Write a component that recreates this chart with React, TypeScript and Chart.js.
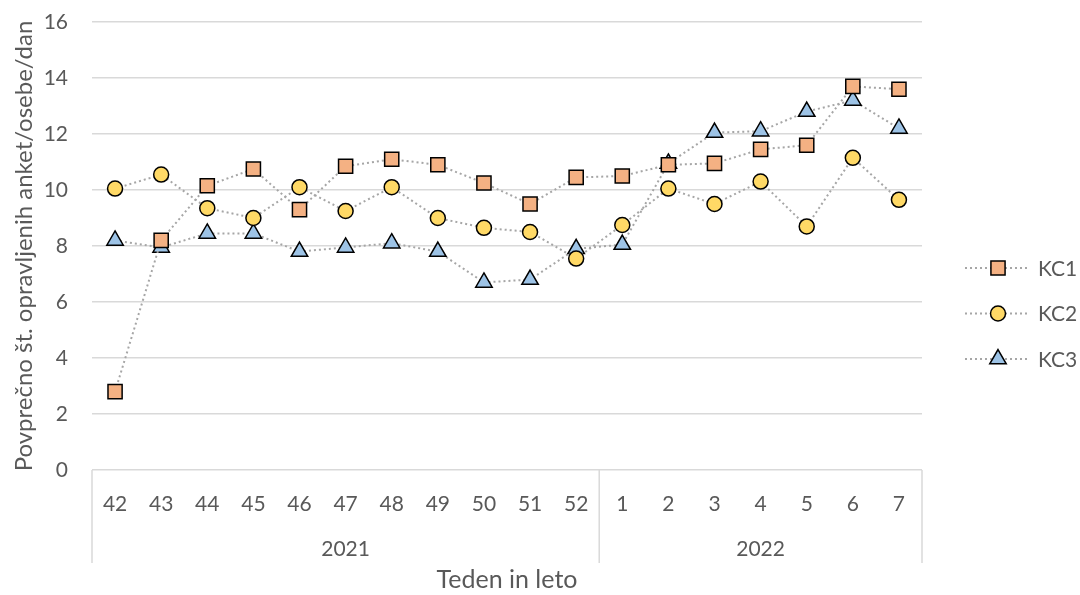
import React, { useEffect, useRef } from 'react';
import { Chart, registerables } from 'chart.js';

Chart.register(...registerables);

const weeks = ['42', '43', '44', '45', '46', '47', '48', '49', '50', '51', '52', '1', '2', '3', '4', '5', '6', '7'];
const years = ['2021', '2021', '2021', '2021', '2021', '2021', '2021', '2021', '2021', '2021', '2021', '2022', '2022', '2022', '2022', '2022', '2022', '2022'];
const seriesNames = ['KC1', 'KC2', 'KC3'];
const kc1 = [2.8, 8.2, 10.15, 10.75, 9.3, 10.85, 11.1, 10.9, 10.25, 9.5, 10.45, 10.5, 10.9, 10.95, 11.45, 11.6, 13.7, 13.6];
const kc2 = [10.05, 10.55, 9.35, 9.0, 10.1, 9.25, 10.1, 9.0, 8.65, 8.5, 7.55, 8.75, 10.05, 9.5, 10.3, 8.7, 11.15, 9.65];
const kc3 = [8.2, 7.95, 8.45, 8.45, 7.8, 7.95, 8.1, 7.8, 6.7, 6.8, 7.9, 8.05, 10.95, 12.05, 12.1, 12.8, 13.2, 12.2];
const yTitle = 'Povprečno št. opravljenih anket/osebe/dan';
const xTitle = 'Teden in leto';

const FONT = "Lato, 'Open Sans', sans-serif";
const TEXT = '#595959';
const GRID = '#d9d9d9';
const LINE = '#a6a6a6';
const fills = ['#f4b183', '#ffd966', '#9dc3e6'];
const styles = ['rect', 'circle', 'triangle'];
const radii = [10, 7.5, 9.5];

function drawMarker(ctx: CanvasRenderingContext2D, style: string, x: number, y: number, r: number, fill: string) {
  ctx.save();
  ctx.fillStyle = fill;
  ctx.strokeStyle = '#000';
  ctx.lineWidth = 1.5;
  ctx.beginPath();
  if (style === 'rect') {
    const s = Math.SQRT1_2 * r;
    ctx.rect(x - s, y - s, 2 * s, 2 * s);
  } else if (style === 'circle') {
    ctx.arc(x, y, r, 0, Math.PI * 2);
  } else {
    ctx.moveTo(x, y - r);
    ctx.lineTo(x + Math.sin(Math.PI / 3) * r, y + Math.cos(Math.PI / 3) * r);
    ctx.lineTo(x - Math.sin(Math.PI / 3) * r, y + Math.cos(Math.PI / 3) * r);
    ctx.closePath();
  }
  ctx.fill();
  ctx.stroke();
  ctx.restore();
}

const groupPlugin = {
  id: 'groupAxis',
  afterDraw(chart: any) {
    const ctx: CanvasRenderingContext2D = chart.ctx;
    const x = chart.scales.x;
    const area = chart.chartArea;
    const n = weeks.length;
    const half = (x.getPixelForValue(1) - x.getPixelForValue(0)) / 2;
    const lineBottom = area.bottom + 93;
    ctx.save();
    ctx.strokeStyle = GRID;
    ctx.lineWidth = 1.5;
    const bounds: number[] = [0];
    for (let i = 1; i < n; i++) if (years[i] !== years[i - 1]) bounds.push(i);
    bounds.push(n);
    bounds.forEach((b) => {
      const px = b === n ? x.getPixelForValue(n - 1) + half : x.getPixelForValue(b) - half;
      ctx.beginPath();
      ctx.moveTo(px, area.bottom);
      ctx.lineTo(px, lineBottom);
      ctx.stroke();
    });
    ctx.fillStyle = TEXT;
    ctx.font = `21px ${FONT}`;
    ctx.textAlign = 'center';
    ctx.textBaseline = 'middle';
    for (let k = 0; k < bounds.length - 1; k++) {
      const a = x.getPixelForValue(bounds[k]) - half;
      const b = x.getPixelForValue(bounds[k + 1] - 1) + half;
      ctx.fillText(years[bounds[k]], (a + b) / 2, area.bottom + 79);
    }
    const lx = area.right + 43;
    const ly = 268;
    ctx.font = `21px ${FONT}`;
    ctx.textAlign = 'left';
    seriesNames.forEach((name, i) => {
      const y = ly + i * 45.5;
      ctx.save();
      ctx.strokeStyle = LINE;
      ctx.lineWidth = 2;
      ctx.setLineDash([2, 3]);
      ctx.beginPath();
      ctx.moveTo(lx, y);
      ctx.lineTo(lx + 64, y);
      ctx.stroke();
      ctx.restore();
      drawMarker(ctx, styles[i], lx + 33, y, radii[i], fills[i]);
      ctx.fillStyle = TEXT;
      ctx.fillText(name, lx + 73, y + 1);
    });
    ctx.restore();
  },
};

export default function App() {
  const ref = useRef<HTMLCanvasElement>(null);
  useEffect(() => {
    document.body.style.margin = '0';
    const data = [kc1, kc2, kc3];
    const chart = new Chart(ref.current!, {
      type: 'line',
      data: {
        labels: weeks,
        datasets: seriesNames.map((name, i) => ({
          label: name,
          data: data[i],
          borderColor: LINE,
          borderWidth: 2,
          borderDash: [2, 3],
          pointStyle: styles[i] as any,
          pointRadius: radii[i],
          pointHoverRadius: radii[i],
          pointBackgroundColor: fills[i],
          pointBorderColor: '#000',
          pointBorderWidth: 1.5,
          fill: false,
          tension: 0,
        })),
      },
      options: {
        animation: false,
        responsive: true,
        maintainAspectRatio: false,
        layout: { padding: { top: 22, right: 158, bottom: 0, left: 0 } },
        plugins: { legend: { display: false }, tooltip: { enabled: false } },
        scales: {
          x: {
            type: 'category',
            offset: true,
            grid: { display: false, drawTicks: false },
            border: { display: false },
            ticks: { color: TEXT, font: { family: FONT, size: 21 }, padding: 22, maxRotation: 0, autoSkip: false },
            title: { display: true, text: xTitle, color: TEXT, font: { family: FONT, size: 25 }, padding: { top: 0, bottom: 0 } },
            afterFit: (s: any) => { s.height = 125; s.paddingLeft = 0; s.paddingRight = 0; },
          },
          y: {
            min: 0,
            max: 16,
            ticks: { stepSize: 2, color: TEXT, font: { family: FONT, size: 21 }, padding: 24 },
            grid: { color: GRID, lineWidth: 1.5, drawTicks: false },
            border: { display: false },
            title: { display: true, text: yTitle, color: TEXT, font: { family: FONT, size: 24 }, padding: { top: 10, bottom: 0 } },
            afterFit: (s: any) => { s.width = 92; s.paddingTop = 0; s.paddingBottom = 0; },
          },
        },
      },
      plugins: [groupPlugin],
    });
    return () => chart.destroy();
  }, []);
  return (
    <div style={{ width: 1080, height: 595, position: 'relative' }}>
      <canvas ref={ref} />
    </div>
  );
}
